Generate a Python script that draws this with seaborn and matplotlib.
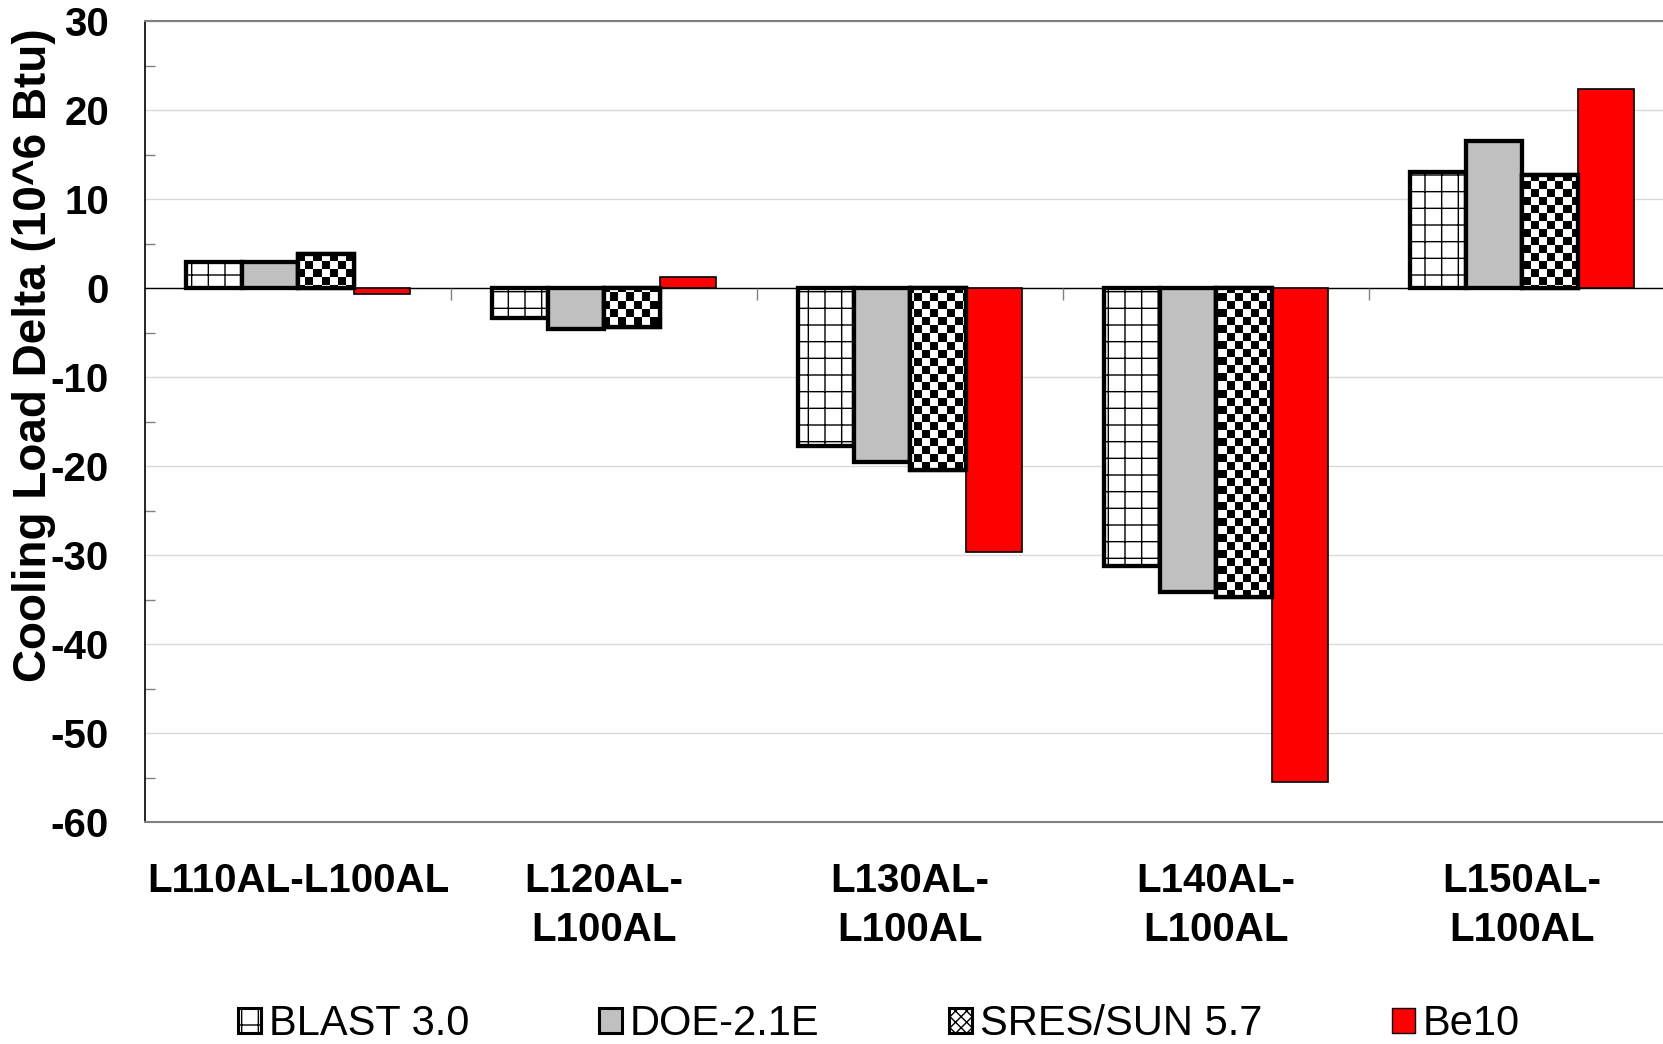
import numpy as np
import pandas as pd
import seaborn as sns
import matplotlib.pyplot as plt
from matplotlib.patches import Patch, Rectangle

cases = ['L110AL-L100AL', 'L120AL-\nL100AL', 'L130AL-\nL100AL',
         'L140AL-\nL100AL', 'L150AL-\nL100AL']
programs = ['BLAST 3.0', 'DOE-2.1E', 'SRES/SUN 5.7', 'Be10']
blast = [3.0, -3.3, -17.7, -31.2, 13.1]
doe = [2.9, -4.6, -19.5, -34.2, 16.6]
sres = [3.8, -4.4, -20.4, -34.7, 12.7]
be10 = [-0.7, 1.3, -29.7, -55.5, 22.4]
yticks = [-60, -50, -40, -30, -20, -10, 0, 10, 20, 30]

df = pd.DataFrame({
    'case': cases * 4,
    'program': np.repeat(programs, len(cases)),
    'delta': blast + doe + sres + be10,
})

sns.set_style('white')
plt.rcParams['font.family'] = ['Liberation Sans', 'DejaVu Sans']
plt.rcParams['axes.unicode_minus'] = False
plt.rcParams['hatch.linewidth'] = 1.0
for key in ['text.color', 'axes.labelcolor', 'xtick.labelcolor', 'ytick.labelcolor']:
    plt.rcParams[key] = 'black'

fig = plt.figure(figsize=(16.63, 10.44), dpi=100)
ax = fig.add_axes([0.0872, 0.2126, 0.9200, 0.7670])

palette = {'BLAST 3.0': 'white', 'DOE-2.1E': '#c0c0c0',
           'SRES/SUN 5.7': 'white', 'Be10': '#ff0000'}
sns.barplot(data=df, x='case', y='delta', hue='program', hue_order=programs,
            palette=palette, saturation=1, width=0.735, edgecolor='black',
            legend=False, ax=ax, zorder=3)

ax.set_xlim(-0.5, 4.5)
ax.set_ylim(-60, 30)

# edge widths and patterns: grid for BLAST, checkerboard for SRES
EDGE = 3.1
for cont in ax.containers[:3]:
    for bar in cont:
        bar.set_linewidth(EDGE)
        bar.set_edgecolor('black')
for bar in ax.containers[0]:
    bar.set_hatch('+')
for bar in ax.containers[3]:
    bar.set_linewidth(1.2)
    bar.set_edgecolor('black')

checker = np.indices((100, 191)).sum(axis=0) % 2
for bar in ax.containers[2]:
    im = ax.imshow(checker, cmap='gray', extent=(-0.5, 4.5, -60, 30),
                   aspect='auto', interpolation='nearest', zorder=3.1)
    im.set_clip_path(bar)
    ax.add_patch(Rectangle(bar.get_xy(), bar.get_width(), bar.get_height(),
                           fill=False, edgecolor='black', linewidth=EDGE, zorder=3.2))
ax.set_xlim(-0.5, 4.5)
ax.set_ylim(-60, 30)

# zero line with category separators
ax.axhline(0, color='black', linewidth=1.0, zorder=2)
ax.vlines(np.arange(len(cases) - 1) + 0.5, -1.35, 0, color='#808080',
          linewidth=1.0, zorder=2)

ax.set_yticks(yticks)
ax.set_yticks(np.arange(-55, 30, 10), minor=True)
ax.grid(axis='y', which='major', color='#d9d9d9', linewidth=1.0, zorder=0)
ax.tick_params(axis='y', which='major', direction='out', length=9, width=1,
               color='#808080', pad=17, labelsize=29, labelcolor='black')
ax.tick_params(axis='y', which='minor', direction='in', left=True, length=7,
               width=1, color='#808080')
for lab in ax.get_yticklabels():
    lab.set_fontweight('bold')

ax.tick_params(axis='x', length=0, pad=29, labelcolor='black')
ax.set_xticks(range(len(cases)))
ax.set_xticklabels(cases, fontsize=29, fontweight='bold', linespacing=1.35)
ax.set_xlabel('')

ax.set_ylabel('Cooling Load Delta (10^6 Btu)', fontsize=33, fontweight='bold',
              color='black')
ax.yaxis.set_label_coords(-0.058, 0.583)

for side in ['top', 'bottom', 'right']:
    ax.spines[side].set_color('#808080')
    ax.spines[side].set_linewidth(1.5)
ax.spines['left'].set_color('black')
ax.spines['left'].set_linewidth(1.2)

handles = [
    Patch(facecolor='white', edgecolor='black', hatch='+', linewidth=2.2, label=programs[0]),
    Patch(facecolor='#c0c0c0', edgecolor='black', linewidth=2.2, label=programs[1]),
    Patch(facecolor='white', edgecolor='black', hatch='xxx', linewidth=2.2, label=programs[2]),
    Patch(facecolor='#ff0000', edgecolor='black', linewidth=1, label=programs[3]),
]
fig.legend(handles=handles, loc='center', bbox_to_anchor=(0.5286, 0.019),
           ncol=4, frameon=False, fontsize=30, handlelength=0.55,
           handleheight=0.55, handletextpad=0.2, columnspacing=3.1,
           borderpad=0, borderaxespad=0, labelcolor='black')

fig.savefig('out.png', dpi=100)
plt.close(fig)
